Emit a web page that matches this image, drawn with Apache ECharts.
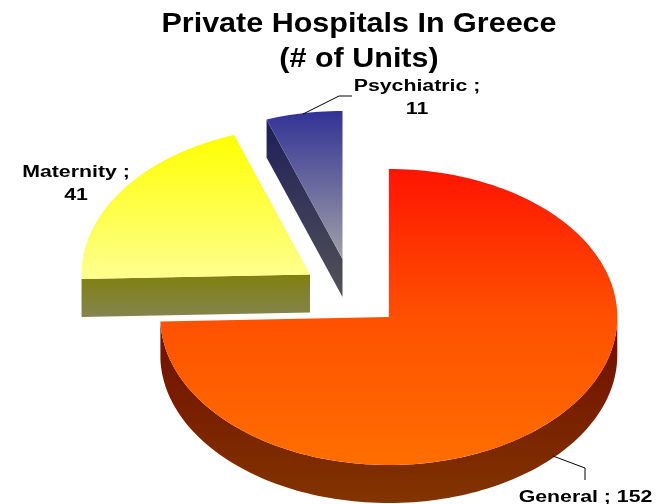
<!DOCTYPE html>
<html>
<head>
<meta charset="utf-8">
<style>html,body{margin:0;padding:0;background:#fff}#chart{width:663px;height:504px}</style>
<script src="https://cdn.jsdelivr.net/npm/echarts@6/dist/echarts.min.js"></script>
</head>
<body>
<div id="chart"></div>
<script>
// Private hospitals in Greece, by type (number of units)
const titleLines = ['Private Hospitals In Greece', '(# of Units)'];
const categories = ['General', 'Maternity', 'Psychiatric'];
const units = [152, 41, 11];

// Exploded tilted-pie geometry
const apexX = [388.8, 310, 342.5];
const apexY = [317, 274.5, 259];
const radiusX = 228.5;
const radiusY = 148;
const depth = 38;

const topColors = [
  ['#ff1400', '#ff5000', '#ff6e00'],
  ['#ffff00', '#ffff90'],
  ['#323296', '#a0a0a6']
];
const wallColors = [
  ['#700c00', '#823400'],
  ['#80800e', '#848450'],
  ['#1e1e5a', '#525256']
];

// Label placement: text centre lines and leader polylines
const labelLines = [
  [{ t: 'General ; 152', x: 585.5, y: 498 }],
  [{ t: 'Maternity ;', x: 76, y: 173 }, { t: '41', x: 76, y: 196 }],
  [{ t: 'Psychiatric ;', x: 417, y: 87 }, { t: '11', x: 417, y: 110 }]
];
const leaders = [
  [[553, 456], [585, 468], [585, 480]],
  null,
  [[303, 114], [339, 96], [352, 96]]
];

const total = units.reduce((a, b) => a + b, 0);
const startAngles = [];
units.reduce((acc, v, i) => { startAngles[i] = acc; return acc + v; }, 0);

function rimPoint(i, deg, drop) {
  const r = deg * Math.PI / 180;
  return [apexX[i] + radiusX * Math.sin(r), apexY[i] - radiusY * Math.cos(r) + drop];
}
function arc(i, from, to, drop) {
  const pts = [];
  const steps = Math.max(2, Math.ceil(Math.abs(to - from) / 1.5));
  for (let s = 0; s <= steps; s++) pts.push(rimPoint(i, from + (to - from) * s / steps, drop));
  return pts;
}
function gradient(colors) {
  return new echarts.graphic.LinearGradient(0, 0, 0, 1,
    colors.map((color, k) => ({ offset: k / (colors.length - 1), color })));
}

function renderSlice(params, api) {
  const i = params.dataIndex;
  const value = api.value(0);
  const a0 = startAngles[i] / total * 360;
  const a1 = a0 + value / total * 360;
  const children = [];
  const apex = [apexX[i], apexY[i]];
  const apexLow = [apexX[i], apexY[i] + depth];
  const wallStyle = { fill: gradient(wallColors[i]), stroke: null };

  // Radial walls turned towards the viewer
  if (Math.sin(a0 * Math.PI / 180) < -0.01) {
    children.push({ type: 'polygon', shape: { points: [apex, rimPoint(i, a0, 0), rimPoint(i, a0, depth), apexLow] }, style: wallStyle });
  }
  if (Math.sin(a1 * Math.PI / 180) > 0.01) {
    children.push({ type: 'polygon', shape: { points: [apex, rimPoint(i, a1, 0), rimPoint(i, a1, depth), apexLow] }, style: wallStyle });
  }
  // Outer rim: only the front half of the ellipse shows
  const f0 = Math.max(a0, 90), f1 = Math.min(a1, 270);
  if (f1 > f0) {
    children.push({
      type: 'polygon',
      shape: { points: arc(i, f0, f1, 0).concat(arc(i, f1, f0, depth)) },
      style: wallStyle
    });
  }
  // Top face
  children.push({
    type: 'polygon',
    shape: { points: [apex].concat(arc(i, a0, a1, 0)) },
    style: { fill: gradient(topColors[i]), stroke: null }
  });
  // Leader line
  if (leaders[i]) {
    children.push({
      type: 'polyline',
      shape: { points: leaders[i] },
      style: { stroke: '#000', lineWidth: 1, fill: null }
    });
  }
  // Category label, set wide
  labelLines[i].forEach(l => {
    children.push({
      type: 'text',
      x: l.x, y: l.y, scaleX: 1.33,
      style: {
        text: l.t, fill: '#000', align: 'center', verticalAlign: 'middle',
        font: 'bold 16px "Liberation Sans", Arial, sans-serif'
      }
    });
  });
  return { type: 'group', children };
}

const chart = echarts.init(document.getElementById('chart'), null, { renderer: 'canvas' });
chart.setOption({
  animation: false,
  backgroundColor: '#fff',
  graphic: titleLines.map((text, k) => ({
    type: 'text',
    x: 359, y: 25 + k * 35, scaleX: 1.13,
    style: {
      text, fill: '#000', align: 'center', verticalAlign: 'middle',
      font: 'bold 27px "Liberation Sans", Arial, sans-serif'
    }
  })),
  series: [{
    type: 'custom',
    coordinateSystem: 'none',
    renderItem: renderSlice,
    data: categories.map((name, i) => ({ name, value: [units[i]] }))
  }]
});
</script>
</body>
</html>
